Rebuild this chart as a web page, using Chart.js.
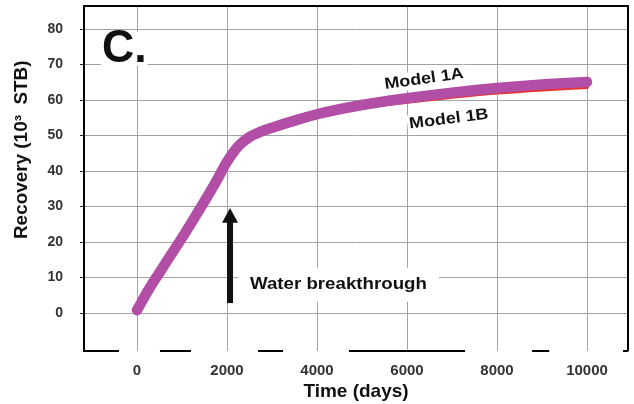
<!DOCTYPE html>
<html>
<head>
<meta charset="utf-8">
<title>Recovery vs time</title>
<script src="https://cdn.jsdelivr.net/npm/chart.js@4.4.1/dist/chart.umd.min.js"></script>
<style>
  html, body { margin: 0; padding: 0; background: #fff; }
</style>
</head>
<body>
<canvas id="recoveryChart" width="634" height="404"></canvas>
<script>
// time axis (days) and cumulative recovery (10^3 STB) for both models
const days = [0, 250, 500, 750, 1000, 1250, 1500, 1750, 2000, 2250, 2500, 2750, 3000, 3500, 4000, 5000, 6000, 7000, 8000, 9000, 10000];
const model1A = [0.8, 6.4, 11.4, 16.3, 21.2, 26.3, 31.5, 36.9, 42.6, 47.0, 49.6, 51.1, 52.2, 54.2, 56.0, 58.6, 60.5, 62.1, 63.4, 64.4, 65.1];
const model1B = [0.8, 6.4, 11.4, 16.3, 21.2, 26.3, 31.5, 36.9, 42.6, 47.0, 49.6, 51.1, 52.1, 54.0, 55.6, 57.9, 59.5, 60.9, 62.1, 63.0, 63.7];

const xTicks = [0, 2000, 4000, 6000, 8000, 10000];
const yTicks = [0, 10, 20, 30, 40, 50, 60, 70, 80];

const breakthroughDay = 2067;

// pieces of the bottom frame line that are actually drawn (in days)
const bottomRuleSegments = [[-1180, -400], [510, 1200], [2690, 3245], [4710, 7290], [8780, 9160], [10800, 10920]];

const FONT = '"Liberation Sans", Arial, Helvetica, sans-serif';
Chart.defaults.font.family = FONT;

// text drawn with a slight horizontal stretch, like the rest of the lettering
function stretchedText(ctx, text, x, y, opts) {
  const { size, stretch = 1, rotate = 0, align = 'left', bg = false } = opts;
  ctx.save();
  ctx.translate(x, y);
  ctx.rotate(rotate * Math.PI / 180);
  ctx.scale(stretch, 1);
  ctx.font = `bold ${size}px ${FONT}`;
  ctx.textBaseline = 'middle';
  ctx.textAlign = align;
  if (bg) {
    const w = ctx.measureText(text).width;
    const left = align === 'center' ? -w / 2 : align === 'right' ? -w : 0;
    ctx.fillStyle = '#fff';
    ctx.fillRect(left - bg[0] / stretch, -bg[1], w + 2 * bg[0] / stretch, 2 * bg[1]);
  }
  ctx.fillStyle = '#111';
  ctx.fillText(text, 0, 0);
  ctx.restore();
}

// keep the plot box exactly where the axes put it
function noScalePadding(scale) {
  scale.paddingTop = 0;
  scale.paddingBottom = 0;
  scale.paddingLeft = 0;
  scale.paddingRight = 0;
}

const notes = {
  id: 'notes',
  beforeDatasetsDraw(chart) {
    const { ctx, scales: { x, y } } = chart;

    // panel letter
    stretchedText(ctx, 'C.', x.getPixelForValue(-780), y.getPixelForValue(74.4), { size: 47, stretch: 0.95, bg: [1, 17] });

    // water breakthrough arrow
    const ax = x.getPixelForValue(breakthroughDay);
    const yBase = y.getPixelForValue(2.8);
    const yHead = y.getPixelForValue(25.4);
    const yTip = y.getPixelForValue(29.6);
    ctx.save();
    ctx.fillStyle = '#111';
    ctx.fillRect(ax - 3, yHead - 1, 6, yBase - yHead + 1);
    ctx.beginPath();
    ctx.moveTo(ax, yTip);
    ctx.lineTo(ax + 8, yHead);
    ctx.lineTo(ax - 8, yHead);
    ctx.closePath();
    ctx.fill();
    ctx.restore();

    stretchedText(ctx, 'Water breakthrough', x.getPixelForValue(2510), y.getPixelForValue(8.0), { size: 17, stretch: 1.1, bg: [12, 17] });

    // series labels
    stretchedText(ctx, 'Model 1A', x.getPixelForValue(6380), y.getPixelForValue(65.9), { size: 16, stretch: 1.12, rotate: -8, align: 'center', bg: [2, 9] });
    stretchedText(ctx, 'Model 1B', x.getPixelForValue(6930), y.getPixelForValue(54.6), { size: 16, stretch: 1.12, rotate: -7, align: 'center', bg: [2, 9] });

    // y axis title
    stretchedText(ctx, 'Recovery (10\u00B3  STB)', chart.chartArea.left - 62, y.getPixelForValue(46), { size: 18, stretch: 1.05, rotate: -90, align: 'center' });
  },
  afterDatasetsDraw(chart) {
    const { ctx, chartArea: a, scales: { x } } = chart;
    ctx.save();
    ctx.strokeStyle = '#000';
    ctx.lineWidth = 2;
    ctx.beginPath();
    ctx.moveTo(a.left - 1, a.top);
    ctx.lineTo(a.right, a.top);
    ctx.lineTo(a.right, a.bottom);
    bottomRuleSegments.forEach(([from, to]) => {
      ctx.moveTo(Math.max(x.getPixelForValue(from), a.left - 1), a.bottom);
      ctx.lineTo(Math.min(x.getPixelForValue(to), a.right + 1), a.bottom);
    });
    ctx.stroke();
    ctx.restore();
  }
};

new Chart(document.getElementById('recoveryChart'), {
  type: 'line',
  data: {
    datasets: [
      {
        label: 'Model 1A',
        data: days.map((d, i) => ({ x: d, y: model1A[i] })),
        borderColor: '#b24ea6',
        borderWidth: 10.5,
        borderCapStyle: 'round',
        borderJoinStyle: 'round',
        cubicInterpolationMode: 'monotone',
        pointRadius: 0
      },
      {
        label: 'Model 1B',
        data: days.map((d, i) => ({ x: d, y: model1B[i] })),
        borderColor: '#e8322f',
        borderWidth: 4,
        borderCapStyle: 'round',
        cubicInterpolationMode: 'monotone',
        pointRadius: 0
      }
    ]
  },
  options: {
    responsive: false,
    devicePixelRatio: 1,
    animation: false,
    layout: { padding: { top: 6, right: 6, left: 0, bottom: 0 } },
    plugins: { legend: { display: false }, tooltip: { enabled: false } },
    scales: {
      x: {
        type: 'linear',
        min: -1178,
        max: 10911,
        afterBuildTicks: (scale) => { scale.ticks = xTicks.map((v) => ({ value: v })); },
        afterFit: (scale) => { scale.height = 53; noScalePadding(scale); },
        border: { display: false },
        grid: { color: '#a3a3a3', lineWidth: 1, drawTicks: false },
        ticks: {
          padding: 11,
          color: '#333',
          font: { size: 15, weight: 'bold' },
          maxRotation: 0,
          callback: (v) => String(v)
        },
        title: {
          display: true,
          text: 'Time (days)',
          color: '#111',
          font: { size: 19, weight: 'bold' },
          padding: { top: 0, bottom: 1 }
        }
      },
      y: {
        type: 'linear',
        min: -10.7,
        max: 86.5,
        afterBuildTicks: (scale) => { scale.ticks = yTicks.map((v) => ({ value: v })); },
        afterFit: (scale) => { scale.width = 84; noScalePadding(scale); },
        border: { display: true, color: '#000', width: 2 },
        grid: { color: '#a3a3a3', lineWidth: 1, drawTicks: true, tickLength: 4, tickColor: '#222' },
        ticks: {
          padding: 17,
          color: '#333',
          font: { size: 14, weight: 'bold' },
          callback: (v) => String(v)
        }
      }
    }
  },
  plugins: [notes]
});
</script>
</body>
</html>
